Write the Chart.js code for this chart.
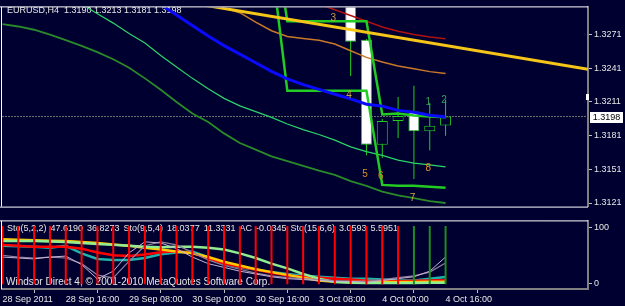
<!DOCTYPE html>
<html>
<head>
<meta charset="utf-8">
<title>EURUSD,H4</title>
<script src="https://cdn.jsdelivr.net/npm/chart.js@4.4.1/dist/chart.umd.min.js"></script>
<style>
  html, body { margin: 0; padding: 0; background: #000030; }
  #wrap { position: relative; width: 625px; height: 306px; overflow: hidden; background: #000030; }
  canvas { position: absolute; left: 0; }
  #main { top: 0; }
  #sub { top: 214px; }
</style>
</head>
<body>
<div id="wrap">
  <canvas id="main" width="625" height="214"></canvas>
  <canvas id="sub" width="625" height="92"></canvas>
</div>
<script>
// ---- values ----
const titleText = "EURUSD,H4  1.3190 1.3213 1.3181 1.3198";
const bars = [0,1,2,3,4,5,6,7,8,9,10,11,12,13,14,15,16,17,18,19,20,21,22,23,24,25,26,27,28];
const timeTickBars = [0, 4, 8, 12, 16, 20, 24, 28];
const timeTickLabels = ["28 Sep 2011", "28 Sep 16:00", "29 Sep 08:00", "30 Sep 00:00",
                        "30 Sep 16:00", "3 Oct 08:00", "4 Oct 00:00", "4 Oct 16:00"];
const priceTicks = [1.3271, 1.3241, 1.3211, 1.3181, 1.3151, 1.3121];
const lastPrice = 1.3198;
const askMark = 1.32153;

// candles still inside the window (older ones are above the top edge)
const candleBars  = [22, 23, 24, 25, 26, 27, 28];
const candleOpen  = [1.3320, 1.32663, 1.31729, 1.31941, 1.32026, 1.31848, 1.3190];
const candleHigh  = [1.3330, 1.32671, 1.31958, 1.32153, 1.32255, 1.32103, 1.3213];
const candleLow   = [1.32340, 1.31636, 1.31610, 1.31789, 1.31424, 1.31678, 1.3181];
const candleClose = [1.32646, 1.31729, 1.31941, 1.31984, 1.31848, 1.31899, 1.3198];

const maBlue = [null,null,null,null,null,null,null,null,1.33172,1.33070,1.32977,1.32884,1.32790,1.32697,
  1.32612,1.32536,1.32459,1.32383,1.32315,1.32264,1.32222,1.32179,1.32137,1.32090,1.32073,1.32035,1.32018,1.31992,1.31975];
const maRed = [null,null,null,null,null,null,null,null,null,null,null,null,null,null,null,null,null,null,
  1.33083,1.33032,1.32981,1.32931,1.3288,1.32829,1.32778,1.3274,1.3271,1.32689,1.32672];
const maOrange = [null,null,null,null,null,null,null,null,null,null,null,null,
  1.33058,1.32998,1.32948,1.32905,1.3282,1.32744,1.32693,1.32676,1.32659,1.32626,1.32566,1.32507,1.32465,1.32431,1.32405,1.3238,1.32363];
const envUpper = [null,null,null,1.33090,1.33040,1.32980,1.32895,1.32812,1.32719,1.32634,1.32524,1.32422,1.3232,
  1.32227,1.32142,1.32075,1.32024,1.31973,1.31914,1.31863,1.3182,1.3177,1.3171,1.31668,1.31634,1.31592,1.31566,1.31549,1.31532];
const envLower = [1.32804,1.32782,1.32753,1.3271,1.3266,1.32609,1.32554,1.3249,1.32414,1.3232,1.32219,1.32109,1.32007,
  1.31931,1.3183,1.31744,1.31685,1.31626,1.31583,1.31541,1.31498,1.3146,1.31405,1.31363,1.31312,1.31278,1.31253,1.31227,1.3121];
const stepHigh = [null,null,null,null,null,null,null,null,null,null,null,null,null,null,null,null,null,
  1.33727,1.32829,1.32829,1.32829,1.32829,1.32829,1.32829,1.31998,1.32007,1.3199,1.31981,1.31973];
const stepLow = [null,null,null,null,null,null,null,null,null,null,null,null,null,null,null,null,null,
  1.33354,1.3221,1.3221,1.3221,1.3221,1.3221,1.3221,1.31371,1.31363,1.31363,1.31354,1.31346];
const trendBars = [10, 37];
const trendPrices = [1.33037, 1.32400];

const markText   = ["3", "4", "5", "6", "7", "8", "1", "2"];
const markBars   = [21, 22, 23, 24, 26, 27, 27, 28];
const markPrices = [1.32858, 1.32171, 1.31466, 1.31449, 1.31254, 1.31517, 1.32111, 1.32128];

// sub window
const legendTexts = ["Sto(5,2,2)", "47.6190", "36.8273", "Sto(9,5,4)", "18.0377", "11.3331",
                     "AC", "-0.0345", "Sto(15,6,6)", "3.0593", "5.5951"];
const copyrightText = "Windsor Direct 4, \u00a9 2001-2010 MetaQuotes Software Corp.";
const stoTicks = [0, 100];
const stoA = [47.5,45.8,44.1,47.5,49.2,33.9,8,22,55,75,72.9,62.7,47.5,35.6,28.8,22.0,16.9,11.9,8.5,6.8,5.1,3.4,3.4,1.7,5.1,8.5,11.9,22.0,47.6];
const stoB = [50.8,47.5,45.8,47.5,45.8,35.6,15.0,10.0,40.0,68.0,75.0,69.5,55.9,42.4,32.2,25.4,18.6,13.6,10.2,8.5,6.8,5.1,3.4,3.4,6.8,10.2,13.6,20.3,36.8];
const stoTeal = [67.8,66.9,66.1,64.4,67.8,54.2,44.1,42.4,42.4,45.8,52.5,55.9,57.6,47.5,35.6,28.8,25.4,20.3,16.9,13.6,11.9,10.2,8.5,8.5,6.8,5.1,5.1,8.5,11.3];
const stoRed = [69.5,67.8,66.1,66.1,66.1,62.7,55.9,50.8,49.2,52,56,58,55,45,36,30,25,19,14,12,10,8.5,6.8,4.5,4.0,4.0,4.5,5.0,5.6];
const stoYellow = [79.7,78.8,78.0,77.1,76.3,74.6,72.9,70.3,67.8,64.4,61.0,57.6,54.2,47.5,39.0,32.2,25.4,20.3,15.3,10.2,5.1,3.0,2.5,2.5,2.5,2.5,2.6,2.8,3.1];
const stoLight = [76.3,76.3,76.3,75.4,74.6,72.9,71.2,69.5,67.8,66.1,65.3,66.1,66.1,64.4,61.0,54.2,45.8,35.6,27.1,16.9,8.5,2.5,1.2,0.8,0.6,0.6,0.8,1.0,1.2];
const acRising = [false,false,false,false,false,false,false,false,false,false,false,false,false,false,
  false,false,false,false,false,false,false,false,false,false,false,false,true,true,true];
const acLow = -1.5, acHigh = 103.5;

// ---- look ----
const NAVY = '#000030';
const TXT = '#e6e6e6';
const FONT = '"Liberation Sans", Arial, sans-serif';
const xMin = -0.03, xMax = 37.0;
const priceMin = 1.31178, priceMax = 1.32952;
const stoMin = -10.2, stoMax = 111.9;
const markColors = ['#c8a040', '#c8a040', '#d89020', '#d08020', '#c8b040', '#e09020', '#30a060', '#30a060'];

function pts(xs, ys) { return xs.map((x, k) => ({ x: x, y: ys[k] })); }
function lineSet(label, xs, ys, color, width, order, extra) {
  return Object.assign({
    type: 'line', label: label, data: pts(xs, ys), borderColor: color, borderWidth: width,
    pointRadius: 0, tension: 0, fill: false, order: order, clip: 0
  }, extra || {});
}

const frame = {
  id: 'frame',
  afterDraw(chart) {
    const { ctx, chartArea: a } = chart;
    ctx.save();
    ctx.strokeStyle = '#ffffff';
    ctx.lineWidth = 1;
    ctx.beginPath();
    ctx.moveTo(0, a.top - 0.5); ctx.lineTo(a.right, a.top - 0.5);
    ctx.moveTo(1.5, a.top - 0.5); ctx.lineTo(1.5, a.bottom);
    if (chart.canvas.id === 'main') { ctx.moveTo(0, a.bottom + 0.5); ctx.lineTo(a.right, a.bottom + 0.5); }
    ctx.stroke();
    ctx.restore();
  }
};

const mainText = {
  id: 'mainText',
  beforeDatasetsDraw(chart) {
    const ctx = chart.ctx;
    ctx.save();
    ctx.font = '9px ' + FONT;
    ctx.fillStyle = TXT;
    ctx.textBaseline = 'middle';
    ctx.fillText(titleText, 7, 11);
    ctx.restore();
  },
  afterDatasetsDraw(chart) {
    const { ctx, scales: { x, y } } = chart;
    ctx.save();
    ctx.font = '10px ' + FONT;
    ctx.textAlign = 'center';
    ctx.textBaseline = 'middle';
    markText.forEach((t, k) => {
      ctx.fillStyle = markColors[k];
      ctx.fillText(t, x.getPixelForValue(markBars[k]) - 1.5, y.getPixelForValue(markPrices[k]));
    });
    ctx.restore();
  },
  afterDraw(chart) {
    const { ctx, chartArea: a, scales: { y } } = chart;
    ctx.save();
    const py = Math.round(y.getPixelForValue(lastPrice));
    ctx.fillStyle = '#ffffff';
    ctx.fillRect(a.right + 2, py - 5, 33, 11);
    ctx.fillStyle = '#000000';
    ctx.font = '9px ' + FONT;
    ctx.textAlign = 'center';
    ctx.textBaseline = 'middle';
    ctx.fillText(lastPrice.toFixed(4), a.right + 18.5, py + 0.5);
    const ay = Math.round(y.getPixelForValue(askMark));
    ctx.fillStyle = '#ffffff';
    ctx.fillRect(a.right - 2, ay - 3, 3, 6);
    ctx.restore();
  }
};

new Chart(document.getElementById('main'), {
  type: 'line',
  data: {
    datasets: [
      lineSet('Trend', trendBars, trendPrices, '#f5c518', 3, 1),
      lineSet('MA blue', bars, maBlue, '#0a0aff', 3, 2),
      lineSet('Step high', bars, stepHigh, '#22cc22', 2.5, 3),
      lineSet('Step low', bars, stepLow, '#22cc22', 2.5, 3),
      lineSet('MA red', bars, maRed, '#b01010', 1.5, 4),
      lineSet('MA orange', bars, maOrange, '#c87828', 1.5, 5),
      lineSet('Env upper', bars, envUpper, '#2ad46a', 1.2, 6),
      lineSet('Env lower', bars, envLower, '#2a8a2a', 1.8, 7),
      {
        type: 'bar', label: 'Body', order: 8, clip: 0,
        data: candleBars.map((b, k) => ({ x: b, y: [candleOpen[k], candleClose[k]] })),
        backgroundColor: candleBars.map((b, k) => candleClose[k] < candleOpen[k] ? '#ffffff' : NAVY),
        borderColor: '#22cc22', borderWidth: 1, borderSkipped: false,
        barThickness: 11, grouped: false, inflateAmount: 0
      },
      {
        type: 'bar', label: 'Wick', order: 9, clip: 0,
        data: candleBars.map((b, k) => ({ x: b, y: [candleLow[k], candleHigh[k]] })),
        backgroundColor: '#22cc22', barThickness: 1, grouped: false, inflateAmount: 0
      },
      lineSet('Last', [xMin, xMax], [lastPrice, lastPrice], '#707070', 1, 10, { borderDash: [2, 1] })
    ]
  },
  options: {
    responsive: false, animation: false, events: [],
    layout: { padding: { left: 2, top: 3, right: 0, bottom: 2 } },
    plugins: { legend: { display: false }, tooltip: { enabled: false } },
    scales: {
      x: { type: 'linear', min: xMin, max: xMax, display: false, offset: false },
      y: {
        type: 'linear', position: 'right', min: priceMin, max: priceMax,
        afterBuildTicks: s => { s.ticks = priceTicks.map(v => ({ value: v })); },
        afterFit: s => { s.width = 37; },
        ticks: { color: TXT, font: { family: FONT, size: 9 }, padding: 2, autoSkip: false,
                 callback: v => v.toFixed(4) },
        grid: { drawOnChartArea: false, drawTicks: true, tickLength: 4, color: '#c0c0c0' },
        border: { display: true, color: '#808080', width: 2 }
      }
    }
  },
  plugins: [mainText, frame]
});

const subText = {
  id: 'subText',
  beforeDatasetsDraw(chart) {
    const ctx = chart.ctx;
    ctx.save();
    ctx.fillStyle = TXT;
    ctx.textBaseline = 'middle';
    ctx.font = '9px ' + FONT;
    let x = 7;
    legendTexts.forEach(t => {
      ctx.fillText(t, x, 14.5);
      x += ctx.measureText(t).width + 4;
    });
    ctx.font = '10px ' + FONT;
    ctx.fillText(copyrightText, 6, 68);
    ctx.restore();
  }
};

new Chart(document.getElementById('sub'), {
  type: 'line',
  data: {
    datasets: [
      {
        type: 'bar', label: 'AC', order: 1, clip: 0,
        data: bars.map(b => ({ x: b, y: [acLow, acHigh] })),
        backgroundColor: acRising.map(r => r ? '#1e8c1e' : '#ff0000'),
        barThickness: 2, grouped: false, inflateAmount: 0
      },
      lineSet('Sto fast', bars, stoA, '#c4b4d4', 1, 2),
      lineSet('Sto fast signal', bars, stoB, '#8f7f9f', 1.2, 3),
      lineSet('Sto slow', bars, stoLight, '#90ee90', 2.5, 4),
      lineSet('Sto slow signal', bars, stoYellow, '#ffc800', 2.5, 5),
      lineSet('Sto mid', bars, stoRed, '#ff0000', 2.5, 6),
      lineSet('Sto mid signal', bars, stoTeal, '#20b2aa', 2.5, 7)
    ]
  },
  options: {
    responsive: false, animation: false, events: [],
    layout: { padding: { left: 2, top: 3, right: 0, bottom: 0 } },
    plugins: { legend: { display: false }, tooltip: { enabled: false } },
    scales: {
      x: {
        type: 'linear', min: xMin, max: xMax, offset: false,
        afterBuildTicks: s => { s.ticks = timeTickBars.map(v => ({ value: v })); },
        afterFit: s => { s.height = 17; },
        ticks: { color: TXT, font: { family: FONT, size: 9 }, padding: 1, align: 'start',
                 autoSkip: false, maxRotation: 0, callback: (v, i) => timeTickLabels[i] },
        grid: { drawOnChartArea: false, drawTicks: true, tickLength: 4, color: '#c0c0c0' },
        border: { display: true, color: '#808080', width: 2 }
      },
      y: {
        type: 'linear', position: 'right', min: stoMin, max: stoMax,
        afterBuildTicks: s => { s.ticks = stoTicks.map(v => ({ value: v })); },
        afterFit: s => { s.width = 37; },
        ticks: { color: TXT, font: { family: FONT, size: 9 }, padding: 2, autoSkip: false },
        grid: { drawOnChartArea: false, drawTicks: true, tickLength: 4, color: '#c0c0c0' },
        border: { display: true, color: '#808080', width: 2 }
      }
    }
  },
  plugins: [subText, frame]
});
</script>
</body>
</html>
